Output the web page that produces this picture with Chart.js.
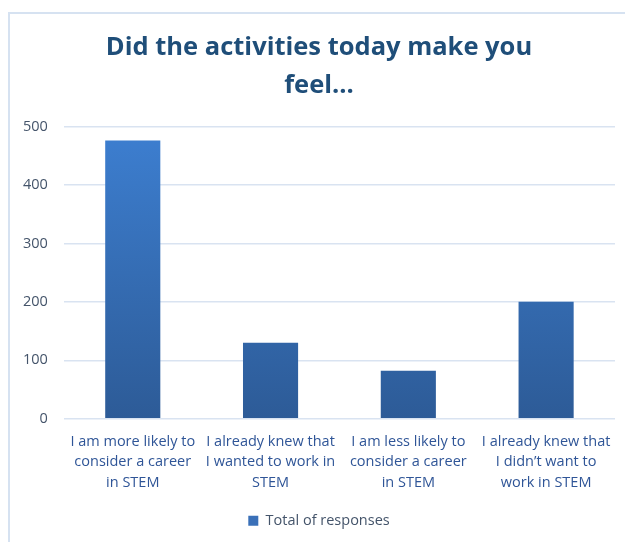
<!DOCTYPE html>
<html>
<head>
<meta charset="utf-8">
<script src="https://cdn.jsdelivr.net/npm/chart.js@4"></script>
<style>
    html, body { margin: 0; padding: 0; background: #fff; }
    .frame {
        position: absolute;
        left: 8px; top: 12px;
        width: 617px; height: 530px;
        border-left: 2px solid #d6e2f1;
        border-top: 2px solid #d6e2f1;
        box-sizing: border-box;
    }
    .wrap { position: absolute; left: 0; top: 0; width: 625px; height: 542px; }
</style>
</head>
<body>
<div class="frame"></div>
<div class="wrap"><canvas id="feelChart"></canvas></div>
<script>
const categories = [
    ["I am more likely to", "consider a career", "in STEM"],
    ["I already knew that", "I wanted to work in", "STEM"],
    ["I am less likely to", "consider a career", "in STEM"],
    ["I already knew that", "I didn\u2019t want to", "work in STEM"],
];
const responses = [476, 130, 82, 200];
const titleLines = ["Did the activities today make you", "feel..."];

const fontFamily = "'Open Sans', 'Noto Sans', sans-serif";
const yTickPad = 16;

// vertical fill, lighter at top
function barFill(ctx) {
    const area = ctx.chart.chartArea;
    if (!area) return "#3a74bf";
    const g = ctx.chart.ctx.createLinearGradient(0, area.top, 0, area.bottom);
    g.addColorStop(0, "#3d7fd1");
    g.addColorStop(1, "#2d5b97");
    return g;
}

new Chart(document.getElementById("feelChart"), {
    type: "bar",
    data: {
        labels: categories,
        datasets: [{
            label: "Total of responses",
            data: responses,
            backgroundColor: barFill,
            borderWidth: 0,
            categoryPercentage: 1,
            barPercentage: 0.4,
        }]
    },
    options: {
        responsive: true,
        maintainAspectRatio: false,
        animation: false,
        layout: { padding: { left: 23, right: 10, top: 28, bottom: 4 } },
        scales: {
            x: {
                grid: { display: false },
                border: { display: false },
                ticks: {
                    color: "#2f5597",
                    font: { family: fontFamily, size: 14.5, lineHeight: 1.42 },
                    maxRotation: 0,
                    autoSkip: false,
                    padding: 4.5,
                },
                // let the outer labels overhang instead of shrinking the plot
                afterFit: (scale) => {
                    scale.paddingLeft = 0;
                    scale.paddingRight = 0;
                },
            },
            y: {
                min: 0,
                max: 500,
                ticks: {
                    stepSize: 100,
                    color: "#44546a",
                    font: { family: fontFamily, size: 14.5 },
                    padding: yTickPad,
                },
                // padding is only wanted between the labels and the plot
                afterFit: (scale) => {
                    scale.width -= yTickPad;
                },
                grid: { color: "#d9e3f1", lineWidth: 1.5, drawTicks: false },
                border: { display: false },
            }
        },
        plugins: {
            title: {
                display: true,
                text: titleLines,
                color: "#1f4e79",
                font: { family: fontFamily, size: 25.5, weight: "bold", lineHeight: 1.52 },
                padding: { top: 0, bottom: 21 },
            },
            legend: {
                position: "bottom",
                labels: {
                    color: "#44546a",
                    font: { family: fontFamily, size: 14.5 },
                    boxWidth: 10,
                    boxHeight: 10,
                    padding: 16,
                    generateLabels: () => [{
                        text: "Total of responses",
                        fillStyle: "#3a70b8",
                        strokeStyle: "#3a70b8",
                        lineWidth: 0,
                        fontColor: "#44546a",
                        datasetIndex: 0,
                    }],
                }
            },
            tooltip: { enabled: false },
        }
    }
});
</script>
</body>
</html>
